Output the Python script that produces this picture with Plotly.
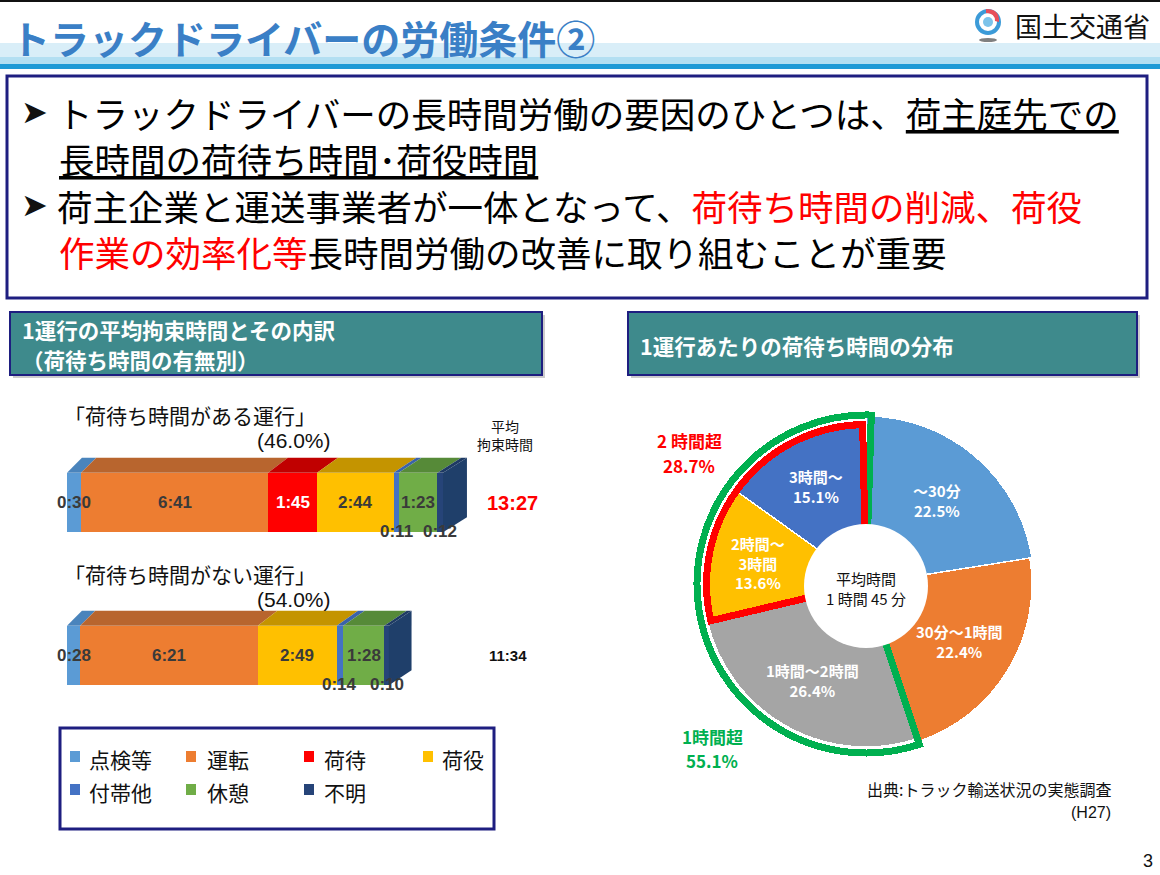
import math
import plotly.graph_objects as go

W, H = 1160, 875


def px(x):
    return x / W


def py(y):
    return 1 - y / H


JP = "Noto Sans CJK JP, Noto Sans, DejaVu Sans, sans-serif"
LAT = "Liberation Sans, Arial, sans-serif"

# ---------------- data: stacked bars ----------------
categories = ['点検等', '運転', '荷待', '荷役', '付帯他', '休憩', '不明']
with_wait = ['0:30', '6:41', '1:45', '2:44', '0:11', '1:23', '0:12']
without_wait = ['0:28', '6:21', '0:00', '2:49', '0:14', '1:28', '0:10']
row_titles = ['「荷待ち時間がある運行」', '「荷待ち時間がない運行」']
row_shares = ['(46.0%)', '(54.0%)']
row_totals = ['13:27', '11:34']

# ---------------- data: distribution pie ----------------
pie_labels = ['～30分', '30分～1時間', '1時間～2時間', '2時間～<br>3時間', '3時間～']
pie_values = [22.5, 22.4, 26.4, 13.6, 15.1]
group_labels = ['2 時間超', '1時間超']
group_values = [28.7, 55.1]
avg_wait_label = '平均時間<br>1 時間 45 分'

# ---------------- styles ----------------
bar_colors = ['#5B9BD5', '#ED7D31', '#FF0000', '#FFC000', '#4472C4', '#70AD47', '#264478']
top_colors = ['#4A84BC', '#B8652E', '#C00000', '#C49400', '#3A62AA', '#568A38', '#1E3A63']
SIDE = '#1F3F6A'
pie_colors = ['#5B9BD5', '#ED7D31', '#A5A5A5', '#FFC000', '#4472C4']
group_colors = ['#FF0000', '#00B050']
NAVY = '#1E1E80'
TEAL = '#3E8A8C'


def to_min(s):
    h, m = s.split(':')
    return int(h) * 60 + int(m)


rows = [with_wait, without_wait]
row_y = [1, 0]
mins = [[to_min(s) for s in r] for r in rows]

fig = go.Figure()
shapes = []
annotations = []

# ---------- bars ----------
BW = 0.39
for i, cat in enumerate(categories):
    fig.add_trace(go.Bar(
        orientation='h', y=row_y, x=[mins[0][i], mins[1][i]], width=BW,
        name=cat, marker=dict(color=bar_colors[i], line=dict(width=0)),
        showlegend=False, hoverinfo='skip', xaxis='x', yaxis='y'))

PXM = 376 / 806.0  # px per minute
DY = 0.098
DX0 = 32
K = 1.024


def back(m):
    return DX0 + m * K


for r, vals in enumerate(mins):
    y = row_y[r]
    yt = y + BW / 2
    yb = y - BW / 2
    cum = 0
    for i, v in enumerate(vals):
        if v <= 0:
            continue
        a, b = cum, cum + v
        shapes.append(dict(type='path', xref='x', yref='y',
                           path=f'M {a},{yt} L {b},{yt} L {back(b)},{yt + DY} L {back(a)},{yt + DY} Z',
                           fillcolor=top_colors[i], line=dict(width=0)))
        ly = y if v >= 20 else yb + 0.005
        annotations.append(dict(xref='x', yref='y', x=(a + b) / 2, y=ly,
                                text=f'<b>{rows[r][i]}</b>', showarrow=False,
                                xanchor='center', yanchor='middle',
                                font=dict(family=LAT, size=17,
                                          color='white' if categories[i] == '荷待' else '#3A3A3A')))
        cum = b
    shapes.append(dict(type='path', xref='x', yref='y',
                       path=f'M {cum},{yt} L {back(cum)},{yt + DY} L {back(cum)},{yb + DY} L {cum},{yb} Z',
                       fillcolor=SIDE, line=dict(width=0)))

# ---------- pie (barpolar) ----------
CX, CY, RMAX = 866, 584, 180
slice_r = [168, 166, 163, 157, 157]
thetas, widths = [], []
cum = 0
for v in pie_values:
    thetas.append(360 * (cum + v / 2) / 100)
    widths.append(360 * v / 100)
    cum += v
fig.add_trace(go.Barpolar(r=slice_r, theta=thetas, width=widths,
                          marker=dict(color=pie_colors, line=dict(color='white', width=1.5)),
                          subplot='polar', showlegend=False, hoverinfo='skip'))

# group outlines: green (1時間超) then red (2時間超)
g_start = 360 * (100 - group_values[1]) / 100
g_end = 360 + 1.8
fig.add_trace(go.Barpolar(r=[169], theta=[(g_start + g_end) / 2], width=[g_end - g_start],
                          marker=dict(color='rgba(0,0,0,0)', line=dict(color=group_colors[1], width=7)),
                          subplot='polar', showlegend=False, hoverinfo='skip'))
r_start = 360 * (100 - group_values[0]) / 100
r_end = 360 - 1.2
fig.add_trace(go.Barpolar(r=[159.5], theta=[(r_start + r_end) / 2], width=[r_end - r_start],
                          marker=dict(color='rgba(0,0,0,0)', line=dict(color=group_colors[0], width=7)),
                          subplot='polar', showlegend=False, hoverinfo='skip'))

for lab, v, th in zip(pie_labels, pie_values, thetas):
    rad = math.radians(th)
    lx = CX + 110 * math.sin(rad)
    ly = CY - 110 * math.cos(rad)
    annotations.append(dict(xref='paper', yref='paper', x=px(lx), y=py(ly),
                            text=f'<b>{lab}<br>{v:.1f}%</b>', showarrow=False,
                            xanchor='center', yanchor='middle', align='center',
                            font=dict(family=JP, size=15, color='white')))

# hole
HR = 62
shapes.append(dict(type='circle', xref='paper', yref='paper', layer='above',
                   x0=px(CX - HR), x1=px(CX + HR), y0=py(CY + 2 + HR), y1=py(CY + 2 - HR),
                   fillcolor='white', line=dict(width=0)))
annotations.append(dict(xref='paper', yref='paper', x=px(CX), y=py(CY + 4),
                        text=avg_wait_label, showarrow=False, xanchor='center', yanchor='middle',
                        align='center', font=dict(family=JP, size=15, color='#111111')))

# group labels (two lines each)
for (gx, gy1, gy2), lab, val, col in zip([(689, 440, 465), (712, 736, 760)], group_labels,
                                          group_values, group_colors):
    annotations.append(dict(xref='paper', yref='paper', x=px(gx), y=py(gy1), text=f'<b>{lab}</b>',
                            showarrow=False, xanchor='center', yanchor='middle',
                            font=dict(family=JP, size=17, color=col)))
    annotations.append(dict(xref='paper', yref='paper', x=px(gx), y=py(gy2), text=f'<b>{val:.1f}%</b>',
                            showarrow=False, xanchor='center', yanchor='middle',
                            font=dict(family=JP, size=17, color=col)))


# ---------- slide decorations ----------
def rect(x0, y0, x1, y1, fill=None, line=None, lw=0, layer='below'):
    d = dict(type='rect', xref='paper', yref='paper', x0=px(x0), x1=px(x1), y0=py(y1), y1=py(y0),
             layer=layer, line=dict(width=lw, color=line or 'rgba(0,0,0,0)'))
    d['fillcolor'] = fill if fill else 'rgba(0,0,0,0)'
    return d


shapes += [
    rect(0, 0, 1160, 2, fill='#111111'),
    rect(0, 43, 1160, 57, fill='#D9EEF8'),
    rect(0, 57, 1160, 64, fill='#B3DFF2'),
    rect(0, 64, 1160, 69, fill='#1E9AD6'),
    rect(7, 76, 1147, 298, line=NAVY, lw=3),
    rect(13, 315, 545, 378, fill='#CCCCCC'),
    rect(10, 312, 542, 375, fill=TEAL, line=NAVY, lw=2),
    rect(631, 315, 1140, 378, fill='#CCCCCC'),
    rect(628, 312, 1137, 375, fill=TEAL, line=NAVY, lw=2),
    rect(60, 728, 494, 829, line=NAVY, lw=3),
]

# logo
shapes.append(dict(type='circle', xref='paper', yref='paper', x0=px(977), x1=px(999),
                   y0=py(33), y1=py(11), line=dict(color='#3C9BD8', width=4), fillcolor='rgba(0,0,0,0)'))
shapes.append(dict(type='circle', xref='paper', yref='paper', x0=px(983), x1=px(993),
                   y0=py(27), y1=py(17), line=dict(width=0), fillcolor='#7CC3EA'))
shapes.append(dict(type='path', xref='paper', yref='paper',
                   path=f'M {px(986)},{py(9)} Q {px(1000)},{py(9)} {px(999)},{py(22)} L {px(995)},{py(21)} Q {px(995)},{py(13)} {px(986)},{py(13)} Z',
                   fillcolor='#E8505B', line=dict(width=0)))
shapes.append(dict(type='circle', xref='paper', yref='paper', x0=px(979), x1=px(997),
                   y0=py(42), y1=py(38), line=dict(width=0), fillcolor='#808080'))

# title and logo text
annotations.append(dict(xref='paper', yref='paper', x=px(9), y=py(37), xanchor='left', yanchor='middle',
                        text='<b>トラックドライバーの労働条件②</b>', showarrow=False,
                        font=dict(family=JP, size=39, color='#3A7FC6')))
annotations.append(dict(xref='paper', yref='paper', x=px(1013), y=py(25), xanchor='left', yanchor='middle',
                        text='国土交通省', showarrow=False, font=dict(family=JP, size=27, color='#111111')))

# main message
FS = 35.5
UL = "<span style='text-decoration:underline'>"
RED = "<span style='color:#FF0000'>"
msg = [
    (19, 112, '➤'),
    (55, 112, 'トラックドライバーの長時間労働の要因のひとつは、' + UL + '荷主庭先での</span>'),
    (57, 158, UL + '長時間の荷待ち時間･荷役時間</span>'),
    (19, 205, '➤'),
    (55, 205, '荷主企業と運送事業者が一体となって、' + RED + '荷待ち時間の削減、荷役</span>'),
    (57, 251, RED + '作業の効率化等</span>長時間労働の改善に取り組むことが重要'),
]
for x, y, t in msg:
    arrow = '➤' in t
    annotations.append(dict(xref='paper', yref='paper', x=px(x), y=py(y), xanchor='left', yanchor='middle',
                            text=t, showarrow=False,
                            font=dict(family=("DejaVu Sans" if arrow else JP),
                                      size=32 if arrow else FS, color='#111111' if arrow else '#000000')))

# section headers
for x, y, t in [(20, 329, '1運行の平均拘束時間とその内訳'), (20, 359, '（荷待ち時間の有無別）'),
                (638, 345, '1運行あたりの荷待ち時間の分布')]:
    annotations.append(dict(xref='paper', yref='paper', x=px(x), y=py(y), xanchor='left', yanchor='middle',
                            text=f'<b>{t}</b>', showarrow=False, font=dict(family=JP, size=21.5, color='white')))

# bar chart texts
for r in range(2):
    base = 415 + r * 159
    annotations.append(dict(xref='paper', yref='paper', x=px(62), y=py(base), xanchor='left', yanchor='middle',
                            text=row_titles[r], showarrow=False, font=dict(family=JP, size=21, color='#111111')))
    annotations.append(dict(xref='paper', yref='paper', x=px(294), y=py(base + 25), xanchor='center',
                            yanchor='middle', text=row_shares[r], showarrow=False,
                            font=dict(family=LAT, size=21, color='#111111')))
annotations.append(dict(xref='paper', yref='paper', x=px(505), y=py(435), xanchor='center', yanchor='middle',
                        text='平均<br>拘束時間', showarrow=False, align='center',
                        font=dict(family=JP, size=14, color='#111111')))
annotations.append(dict(xref='x', yref='y', x=955, y=row_y[0], xanchor='center', yanchor='middle',
                        text=f'<b>{row_totals[0]}</b>', showarrow=False,
                        font=dict(family=LAT, size=20, color='#FF0000')))
annotations.append(dict(xref='x', yref='y', x=945, y=row_y[1], xanchor='center', yanchor='middle',
                        text=f'<b>{row_totals[1]}</b>', showarrow=False,
                        font=dict(family=LAT, size=15, color='#111111')))

# legend
mk_x = [70, 186, 304, 423]
tx_x = [87, 205, 322, 440]
rows_y = [759, 792]
for i, cat in enumerate(categories):
    rr, cc = divmod(i, 4)
    yy = rows_y[rr]
    shapes.append(rect(mk_x[cc], yy - 8, mk_x[cc] + 10, yy + 3, fill=bar_colors[i], layer='above'))
    annotations.append(dict(xref='paper', yref='paper', x=px(tx_x[cc]), y=py(yy), xanchor='left',
                            yanchor='middle', text=cat, showarrow=False,
                            font=dict(family=JP, size=21, color='#111111')))

# source & page
annotations.append(dict(xref='paper', yref='paper', x=px(1113), y=py(789), xanchor='right', yanchor='middle',
                        text='出典:トラック輸送状況の実態調査', showarrow=False,
                        font=dict(family=JP, size=16, color='#111111')))
annotations.append(dict(xref='paper', yref='paper', x=px(1113), y=py(812), xanchor='right', yanchor='middle',
                        text='(H27)', showarrow=False, font=dict(family=LAT, size=16, color='#111111')))
annotations.append(dict(xref='paper', yref='paper', x=px(1155), y=py(861), xanchor='right', yanchor='middle',
                        text='3', showarrow=False, font=dict(family=LAT, size=18, color='#111111')))

fig.update_layout(
    width=W, height=H, margin=dict(l=0, r=0, t=0, b=0),
    paper_bgcolor='white', plot_bgcolor='rgba(0,0,0,0)',
    barmode='stack', bargap=0,
    xaxis=dict(domain=[px(67), px(67 + 1000 * PXM)], range=[0, 1000], visible=False, fixedrange=True),
    yaxis=dict(domain=[py(732), py(426)], range=[-0.5, 1.5], visible=False, fixedrange=True),
    polar=dict(domain=dict(x=[px(CX - RMAX), px(CX + RMAX)], y=[py(CY + RMAX), py(CY - RMAX)]),
               bgcolor='rgba(0,0,0,0)', bargap=0, hole=0,
               radialaxis=dict(visible=False, range=[0, RMAX]),
               angularaxis=dict(visible=False, rotation=90, direction='clockwise')),
    shapes=shapes, annotations=annotations,
    font=dict(family=JP),
)

fig.write_html('out.html', config={'displayModeBar': False},
               post_script="document.body.style.margin='0';document.body.style.overflow='hidden';")
